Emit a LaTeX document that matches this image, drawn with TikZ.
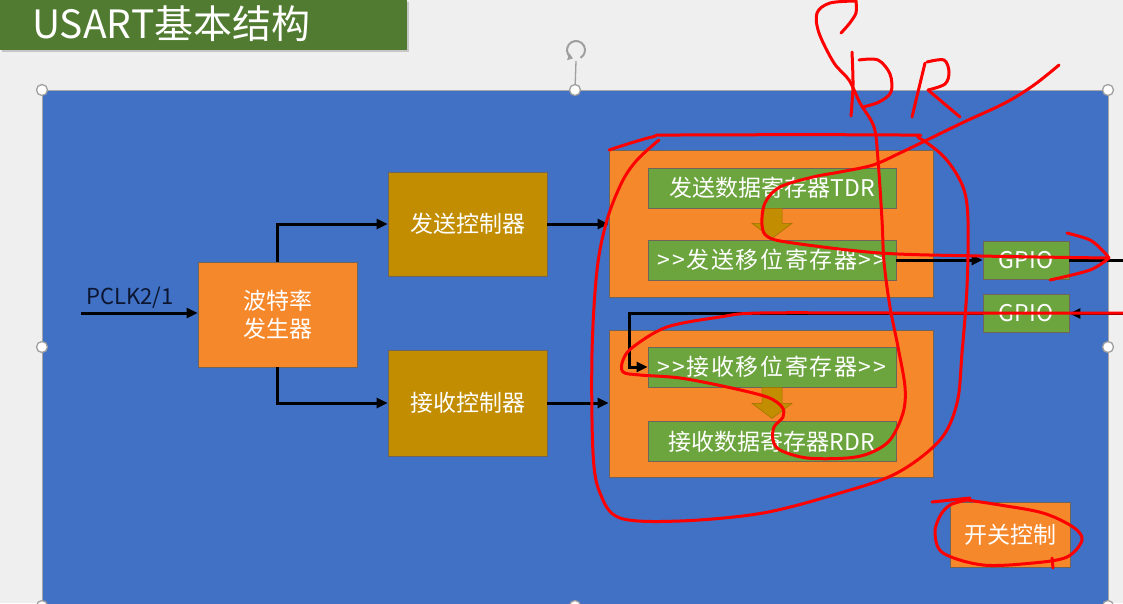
\documentclass[tikz,border=0pt]{standalone}
\usepackage{fontspec}
\setmainfont{Noto Sans CJK SC}
\usetikzlibrary{arrows.meta,calc}
\definecolor{bgc}{RGB}{239,239,239}
\definecolor{slideblue}{RGB}{64,113,196}
\definecolor{boxorange}{RGB}{246,136,44}
\definecolor{boxgold}{RGB}{194,141,0}
\definecolor{boxgreen}{RGB}{108,165,62}
\definecolor{titlegreen}{RGB}{80,123,48}
\definecolor{inkred}{RGB}{255,0,0}
\definecolor{edgec}{RGB}{110,100,90}
\definecolor{navy}{RGB}{12,22,48}
\newcommand\gp{\kern1.6pt}
\tikzset{
  box/.style={draw=edgec, line width=0.8pt, text=white, font=\fontsize{23}{28}\selectfont, inner sep=0pt, align=center},
  orangebox/.style={box, fill=boxorange},
  goldbox/.style={box, fill=boxgold},
  greenbox/.style={box, fill=boxgreen},
  wire/.style={line width=3pt, black, -{Triangle[length=11pt,width=10pt]}},
  plainwire/.style={line width=3pt, black},
  ink/.style={draw=inkred, line width=3pt, line cap=round, line join=round},
  handle/.style={circle, draw=gray!75, fill=white, line width=1.3pt, minimum size=11pt, inner sep=0pt},
  blockarrow/.style={fill=boxgold, draw=boxgold!80!black, line width=0.5pt}
}
\begin{document}
\begin{tikzpicture}[x=1pt,y=-1pt]
\useasboundingbox (0,0) rectangle (1123,603);
\fill[bgc] (0,0) rectangle (1123,603);
% title bar
\fill[gray!45] (2,2) rectangle (409,52);
\fill[titlegreen] (0,0) rectangle (407,50);
\node[anchor=base west, text=white, font=\fontsize{39}{39}\selectfont, inner sep=0pt] (title) at (32,38) {USART基本结构};
% slide rectangle
\fill[slideblue] (42,90) rectangle (1108,606);
\draw[gray!70, line width=1pt] (42,606) -- (42,90) -- (1108,90) -- (1108,606);
% rotation handle
\coordinate (rot) at (576,50);
\draw[gray!75, line width=1.3pt] (576,61) -- (575,90);
\draw[gray!75, line width=2pt, -{Triangle[length=5pt,width=7pt]}] ($(rot)+(-60:9pt)$) arc[start angle=-60, end angle=250, radius=9pt];
% selection handles
\node[handle] (h1) at (42,90) {};
\node[handle] (h2) at (575,90) {};
\node[handle] (h3) at (1108,90) {};
\node[handle] (h4) at (42,347) {};
\node[handle] (h5) at (1108,347) {};
\node[handle] (h6) at (42,606) {};
\node[handle] (h7) at (575,606) {};
\node[handle] (h8) at (1108,606) {};
% boxes
\node[orangebox, minimum width=159pt, minimum height=105pt] (baud) at (277.5,314.5) {波特率\\发生器};
\node[goldbox, minimum width=159pt, minimum height=104pt] (txc) at (467.5,224) {发送控制器};
\node[goldbox, minimum width=159pt, minimum height=106pt] (rxc) at (467.5,403) {接收控制器};
\node[orangebox, minimum width=324pt, minimum height=147pt] (txb) at (771,223.5) {};
\node[orangebox, minimum width=324pt, minimum height=147pt] (rxb) at (771,403.5) {};
\node[greenbox, minimum width=248pt, minimum height=40pt] (tdr) at (772,188) {发送数据寄存器TDR};
\node[greenbox, minimum width=248pt, minimum height=40pt] (tsr) at (772,260) {>\gp{}>\gp{}发\gp{}送\gp{}移\gp{}位\gp{}寄\gp{}存\gp{}器\gp{}>\gp{}>};
\node[greenbox, minimum width=248pt, minimum height=40pt] (rsr) at (772,367) {>\gp{}>\gp{}接\gp{}收\gp{}移\gp{}位\gp{}寄\gp{}存\gp{}器\gp{}>\gp{}>};
\node[greenbox, minimum width=248pt, minimum height=40pt] (rdr) at (772,441.5) {接收数据寄存器RDR};
\node[greenbox, minimum width=86pt, minimum height=38pt] (gpio1) at (1026,260) {GPIO};
\node[greenbox, minimum width=86pt, minimum height=38pt] (gpio2) at (1026,313.5) {GPIO};
\node[orangebox, minimum width=120pt, minimum height=65pt] (sw) at (1010,534.5) {开关控制};
% block arrows
\draw[blockarrow] ($(tdr.south)+(-10,0)$) -- ++(0,15) -- ++(-10,0) -- ($(tdr.south)+(0,30)$) -- ($(tdr.south)+(20,15)$) -- ++(-10,0) -- ($(tdr.south)+(10,0)$) -- cycle;
\draw[blockarrow] ($(rsr.south)+(-10,0)$) -- ++(0,16) -- ++(-10,0) -- ($(rsr.south)+(0,31)$) -- ($(rsr.south)+(20,16)$) -- ++(-10,0) -- ($(rsr.south)+(10,0)$) -- cycle;
% connectors
\node[anchor=base west, text=navy, font=\fontsize{22}{22}\selectfont, inner sep=0pt] (pclk) at (86,304) {PCLK2/1};
\coordinate (pin) at (81,313);
\draw[wire] (pin) -- (pin -| baud.west);
\draw[wire] (baud.north) |- (txc.west);
\draw[wire] (baud.south) |- (rxc.west);
\draw[wire] (txc.east) -- (txc.east -| txb.west);
\draw[wire] (rxc.east) -- (rxc.east -| rxb.west);
\draw[wire] (tsr.east) -- (gpio1.west);
\coordinate (rout) at (1123,260);
\draw[plainwire] (gpio1.east) -- (gpio1.east -| rout);
\coordinate (rin) at (1123,314);
\draw[wire] (gpio2.east -| rin) -- (gpio2.east);
\coordinate (rxturn) at (629,313.5);
\draw[wire] (gpio2.west) -- (rxturn) |- (rsr.west);
% red annotations
\draw[ink] plot[smooth, tension=0.55] coordinates {(659,140) (637,160) (622,182) (607,220) (597,270) (592,353) (593,453) (600,493) (620,518) (680,521) (763,513) (840,493) (897,473) (940,440) (957,403) (962,353) (967,287) (968,220) (963,187) (945,158) (919,138) (900,135) (680,135) (652,137) (609,150)};
\draw[ink] plot[smooth, tension=0.55] coordinates {(856,1) (830,3) (817,13) (819,33) (834,63) (849,80) (860,103) (874,127) (878,160) (882,220) (884,262) (890,307) (898,347) (905,387) (903,413) (890,440) (870,453) (847,458) (807,458) (780,450) (773,440) (774,427) (783,417) (782,407) (767,397) (727,387) (680,378) (640,375) (623,372) (623,360) (633,347) (667,327) (720,317) (760,313) (900,313) (1123,313)};
\draw[ink] plot[smooth, tension=0.5] coordinates {(856,1) (856,13) (849,24) (841,33)};
\draw[ink] plot[smooth, tension=0.5] coordinates {(852,52) (853,85) (851,116)};
\draw[ink] plot[smooth, tension=0.55] coordinates {(859,60) (878,60) (890,74) (891,92) (879,102) (863,107)};
\draw[ink] plot[smooth, tension=0.5] coordinates {(925,63) (918,92) (912,117)};
\draw[ink] plot[smooth, tension=0.55] coordinates {(927,62) (944,60) (949,72) (945,84) (928,90)};
\draw[ink] (928,90) -- (960,117);
\draw[ink] plot[smooth, tension=0.55] coordinates {(1059,65) (1034,85) (1005,103) (964,122) (927,140) (900,153) (873,165) (840,172) (813,177) (780,187) (765,203) (762,225) (768,237) (793,243) (880,253) (980,256) (1108,258)};
\draw[ink] plot[smooth, tension=0.55] coordinates {(1067,233) (1090,240) (1103,251) (1109,258)};
\draw[ink] plot[smooth, tension=0.55] coordinates {(1109,258) (1090,270) (1050,280)};
\draw[ink] (932,502) -- (970,498);
\draw[ink] plot[smooth, tension=0.55] coordinates {(967,500) (950,505) (940,516) (935,533) (943,553) (983,565) (1033,563) (1067,557) (1082,540) (1073,527) (1043,513) (1000,505) (967,500)};
\draw[ink] (1052,558) -- (1053,568);
\end{tikzpicture}
\end{document}
